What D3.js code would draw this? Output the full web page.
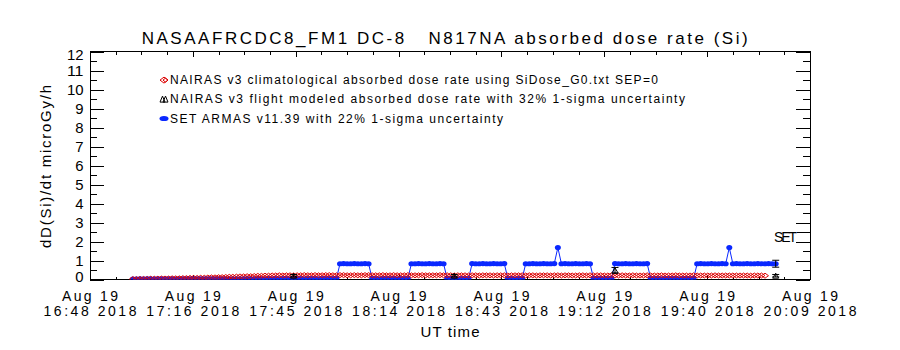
<!DOCTYPE html>
<html><head><meta charset="utf-8">
<script src="https://cdn.jsdelivr.net/npm/d3@7/dist/d3.min.js"></script>
<style>html,body{margin:0;padding:0;background:#fff;} svg{display:block;}</style>
</head><body>
<svg id="chart" width="900" height="350"></svg>
<script>
// ---------------- DATA ----------------
const titleText = "NASAAFRCDC8_FM1 DC-8   N817NA absorbed dose rate (Si)";
const xTitle = "UT time";
const yTitle = "dD(Si)/dt microGy/h";
const legendLabels = [
  "NAIRAS v3 climatological absorbed dose rate using SiDose_G0.txt SEP=0",
  "NAIRAS v3 flight modeled absorbed dose rate with 32% 1-sigma uncertainty",
  "SET ARMAS v11.39 with 22% 1-sigma uncertainty"
];
// x axis: UT as fraction of day (Aug 19 2018)
const xDomainDay = [0.70, 0.84];
const xTickDays = [0.70, 0.72, 0.74, 0.76, 0.78, 0.80, 0.82, 0.84];
const xTickLine1 = ["Aug 19","Aug 19","Aug 19","Aug 19","Aug 19","Aug 19","Aug 19","Aug 19"];
const xTickLine2 = ["16:48 2018","17:16 2018","17:45 2018","18:14 2018","18:43 2018","19:12 2018","19:40 2018","20:09 2018"];
const yTickValues = [0,1,2,3,4,5,6,7,8,9,10,11,12];
const yTickLabels = ["0","1","2","3","4","5","6","7","8","9","10","11","12"];

// sampled series: one value per minute starting at the given UT
const climStartUT = "17:00";
const climValues = [
  0.02,0.02,0.03,0.03,0.03,0.04,0.04,0.04,0.05,0.05,0.05,0.06,0.06,0.06,0.07,0.07,0.08,0.08,0.08,
  0.09,0.09,0.10,0.11,0.11,0.12,0.12,0.13,0.14,0.14,0.15,0.16,0.16,0.17,0.17,0.18,0.19,0.19,0.20,0.20,
  0.21,0.21,0.22,0.21,0.22,0.22,0.21,0.22,0.22,0.23,
  0.22,0.22,0.23,0.22,0.22,0.23,0.23,0.22,0.22,0.23,
  0.23,0.22,0.22,0.23,0.22,0.22,0.23,0.23,0.22,0.22,
  0.22,0.23,0.22,0.22,0.23,0.22,0.22,0.22,0.23,0.22,
  0.22,0.22,0.23,0.22,0.22,0.22,0.22,0.23,0.22,0.22,
  0.22,0.21,0.22,0.22,0.22,0.21,0.22,0.22,0.21,0.22,
  0.22,0.22,0.21,0.22,0.22,0.22,0.21,0.22,0.22,0.22,
  0.22,0.21,0.22,0.22,0.21,0.22,0.22,0.22,0.21,0.22,
  0.22,0.21,0.22,0.22,0.21,0.21,0.22,0.22,0.21,0.22,
  0.21,0.22,0.22,0.21,0.21,0.22,0.21,0.21,0.22,0.21,
  0.21,0.22,0.21,0.21,0.21,0.22,0.21,0.21,0.21,0.22,
  0.21,0.21,0.21,0.22,0.21,0.21,0.21,0.21,0.22,0.21,
  0.21,0.21,0.21,0.21,0.22,0.21,0.21,0.21,0.21,0.21,
  0.21,0.21,0.21,0.21,0.20,0.21,0.21,0.21,0.20
];

const setStartUT = "17:00";
const setValues = [
  0.02,0.02,0.03,0.02,0.03,0.03,0.02,0.03,0.03,0.03,
  0.03,0.03,0.02,0.03,0.03,0.04,0.03,0.03,0.04,0.03,
  0.04,0.03,0.04,0.04,0.03,0.04,0.04,0.04,0.03,0.04,
  0.04,0.04,0.05,0.04,0.04,0.05,0.04,0.04,0.05,0.04,
  0.05,0.04,0.05,0.05,0.04,0.05,0.05,0.05,0.04,0.05,
  0.05,0.05,0.04,0.05,0.05,0.05,0.05,0.05,
  0.83,0.84,0.83,0.83,0.84,0.83,0.83,0.84,0.83,
  0.05,0.05,0.04,0.05,0.05,0.05,0.05,0.04,0.05,0.05,0.05,
  0.83,0.83,0.84,0.83,0.83,0.84,0.83,0.83,0.84,0.83,
  0.05,0.05,0.05,0.04,0.05,0.05,0.05,
  0.84,0.83,0.83,0.84,0.83,0.83,0.84,0.83,0.83,0.84,
  0.05,0.05,0.04,0.05,0.05,
  0.83,0.83,0.84,0.83,0.83,0.84,0.83,0.83,0.84,
  1.68,
  0.83,0.84,0.83,0.83,0.84,0.83,0.83,0.84,0.83,
  0.05,0.05,0.05,0.04,0.05,0.05,
  0.84,0.83,0.83,0.84,0.83,0.83,0.84,0.83,0.83,0.84,
  0.05,0.05,0.05,0.04,0.05,0.05,0.05,0.05,0.04,0.05,0.05,0.05,0.05,
  0.83,0.84,0.83,0.83,0.84,0.83,0.83,0.84,0.83,
  1.68,
  0.83,0.84,0.83,0.83,0.84,0.83,0.83,0.84,0.83,0.83,0.84,0.83,0.83
];

// NAIRAS flight modeled points (32% uncertainty)
const flightTimesUT = ["17:45","18:30","19:15","20:00"];
const flightValues = [0.20, 0.20, 0.48, 0.20];
const flightSigma = 0.32;
// SET error bar point (22% uncertainty)
const setErrTimesUT = ["20:00"];
const setErrValues = [0.83];
const setSigma = 0.22;
const setLabel = "SET";
const setLabelValue = 2.5;

// ---------------- DRAWING ----------------
const svg = d3.select("#chart");
const FONT = "Liberation Sans, Arial, sans-serif";
const RED = "#dd0000", BLUE = "#0a28ff", BLACK = "#000";
const L = 90, R = 810, T = 51.5, B = 279.5;

const x = d3.scaleLinear().domain(xDomainDay).range([L, R]);
const y = d3.scaleLinear().domain([0, 12]).range([B, T]);

const utToDay = s => { const p = s.split(":").map(Number); return (p[0]*60 + p[1]) / 1440; };
const series = (start, vals) => vals.map((v, i) => ({t: utToDay(start) + i/1440, v}));
const climData = series(climStartUT, climValues);
const setData = series(setStartUT, setValues);

svg.append("rect").attr("width",900).attr("height",350).attr("fill","#fff");

svg.append("defs").append("clipPath").attr("id","clip")
  .append("rect").attr("x",L).attr("y",T).attr("width",R-L).attr("height",B-T);

// axes (IDL style: ticks inside on all four sides)
const yMinor = d3.range(0, 12.01, 0.5);
const xMinor = d3.range(0, 29).map(i => xDomainDay[0] + i*0.005);
const axes = svg.append("g").attr("stroke", BLACK).attr("stroke-width", 1).attr("shape-rendering","crispEdges");
axes.append("rect").attr("x",L).attr("y",T).attr("width",R-L).attr("height",B-T).attr("fill","none");
yMinor.forEach(v => {
  const major = Math.abs(v - Math.round(v)) < 1e-6;
  const len = major ? 14 : 7;
  const yy = Math.round(y(v)) + 0.5;
  axes.append("line").attr("x1",L).attr("x2",L+len).attr("y1",yy).attr("y2",yy);
  axes.append("line").attr("x1",R).attr("x2",R-len).attr("y1",yy).attr("y2",yy);
});
xMinor.forEach((d, i) => {
  const len = (i % 4 === 0) ? 5 : 3;
  const xx = Math.round(x(d)) + 0.5;
  axes.append("line").attr("x1",xx).attr("x2",xx).attr("y1",B).attr("y2",B-len);
  axes.append("line").attr("x1",xx).attr("x2",xx).attr("y1",T).attr("y2",T+len);
});

// y tick labels
const yl = svg.append("g").attr("font-family",FONT).attr("font-size",14).attr("fill",BLACK);
yTickValues.forEach((v, i) => {
  let dy = 5;
  if (i === 0) dy = 2;
  if (i === yTickValues.length - 1) dy = 8.5;
  yl.append("text").attr("x", 83.5).attr("y", y(v) + dy).attr("text-anchor","end")
    .attr("textLength", yTickLabels[i].length * 8.3).attr("lengthAdjust","spacingAndGlyphs").text(yTickLabels[i]);
});

// x tick labels
const xl = svg.append("g").attr("font-family",FONT).attr("font-size",14).attr("fill",BLACK);
xTickDays.forEach((d, i) => {
  xl.append("text").attr("x", x(d)).attr("y", 300.5).attr("text-anchor","middle")
    .attr("textLength",56).attr("lengthAdjust","spacing").style("white-space","pre").text(xTickLine1[i]);
  xl.append("text").attr("x", x(d)).attr("y", 316).attr("text-anchor","middle")
    .attr("textLength",93).attr("lengthAdjust","spacing").style("white-space","pre").text(xTickLine2[i]);
});

// titles
svg.append("text").attr("x",141.7).attr("y",43.5).attr("font-family",FONT).attr("font-size",17)
  .attr("textLength",606).attr("lengthAdjust","spacing").style("white-space","pre").text(titleText);
svg.append("text").attr("x",(L+R)/2).attr("y",337.3).attr("text-anchor","middle").attr("font-family",FONT)
  .attr("font-size",15).attr("textLength",59).attr("lengthAdjust","spacing").text(xTitle);
svg.append("text").attr("transform",`translate(50.5,${(85+248)/2}) rotate(-90)`).attr("text-anchor","middle")
  .attr("font-family",FONT).attr("font-size",15).attr("textLength",163).attr("lengthAdjust","spacing").text(yTitle);

// plot content
const plot = svg.append("g").attr("clip-path","url(#clip)");

// SET ARMAS (blue) line + markers
plot.append("path").datum(setData)
  .attr("d", d3.line().x(d => x(d.t)).y(d => y(d.v)))
  .attr("fill","none").attr("stroke",BLUE).attr("stroke-width",1);
plot.append("g").selectAll("ellipse").data(setData).join("ellipse")
  .attr("cx", d => x(d.t)).attr("cy", d => y(d.v)).attr("rx",3).attr("ry",2.6).attr("fill",BLUE);

// NAIRAS climatological (red diamonds)
const diamond = (cx, cy, w, h) => `M${cx-w},${cy}L${cx},${cy-h}L${cx+w},${cy}L${cx},${cy+h}Z`;
plot.append("g").selectAll("path").data(climData).join("path")
  .attr("d", d => diamond(x(d.t), y(d.v), 3.5, 2.5))
  .attr("fill","none").attr("stroke",RED).attr("stroke-width",1);

// error bars helper
function errBar(g, tx, v, s) {
  const cx = x(tx), lo = y(v*(1-s)), hi = y(v*(1+s));
  g.append("line").attr("x1",cx).attr("x2",cx).attr("y1",lo).attr("y2",hi);
  g.append("line").attr("x1",cx-3.5).attr("x2",cx+3.5).attr("y1",lo).attr("y2",lo);
  g.append("line").attr("x1",cx-3.5).attr("x2",cx+3.5).attr("y1",hi).attr("y2",hi);
}
const eg = plot.append("g").attr("stroke",BLACK).attr("stroke-width",1);
flightTimesUT.forEach((t, i) => {
  const cx = x(utToDay(t)), cy = y(flightValues[i]);
  eg.append("path").attr("d",`M${cx-3},${cy+2.5}L${cx},${cy-2.5}L${cx+3},${cy+2.5}Z`).attr("fill","none");
  errBar(eg, utToDay(t), flightValues[i], flightSigma);
});
setErrTimesUT.forEach((t, i) => errBar(eg, utToDay(t), setErrValues[i], setSigma));

// SET label at right
svg.append("text").attr("x", 797).attr("y", y(setLabelValue) + 10).attr("text-anchor","end")
  .attr("font-family",FONT).attr("font-size",14).attr("textLength",23).attr("lengthAdjust","spacing").text(setLabel);
svg.append("line").attr("x1",797).attr("x2",R).attr("y1",Math.round(y(setLabelValue))+0.5).attr("y2",Math.round(y(setLabelValue))+0.5)
  .attr("stroke",BLACK).attr("shape-rendering","crispEdges");

// legend
const lg = svg.append("g").attr("font-family",FONT).attr("font-size",12).attr("fill",BLACK);
const legY = [84.3, 103.3, 122.7];
legendLabels.forEach((txt, i) => {
  lg.append("text").attr("x",170).attr("y",legY[i]).attr("textLength",[488,515,333][i])
    .attr("lengthAdjust","spacing").text(txt);
});
const sx = 164, c0 = legY[0]-4.2, c1 = legY[1]-4.2, c2 = legY[2]-4.2;
lg.append("path").attr("d", diamond(sx, c0, 4, 3)).attr("fill","none").attr("stroke",RED);
lg.append("path").attr("d", diamond(sx+1.5, c0, 2.5, 2)).attr("fill","none").attr("stroke",RED);
lg.append("path").attr("d",`M${sx-4},${c1+3}L${sx-1.5},${c1-3}L${sx+1},${c1+3}Z M${sx-1},${c1+3}L${sx+1.5},${c1-3}L${sx+4},${c1+3}Z`)
  .attr("fill","none").attr("stroke",BLACK);
lg.append("ellipse").attr("cx",sx).attr("cy",c2).attr("rx",4.5).attr("ry",2.6).attr("fill",BLUE);
</script>
</body></html>
